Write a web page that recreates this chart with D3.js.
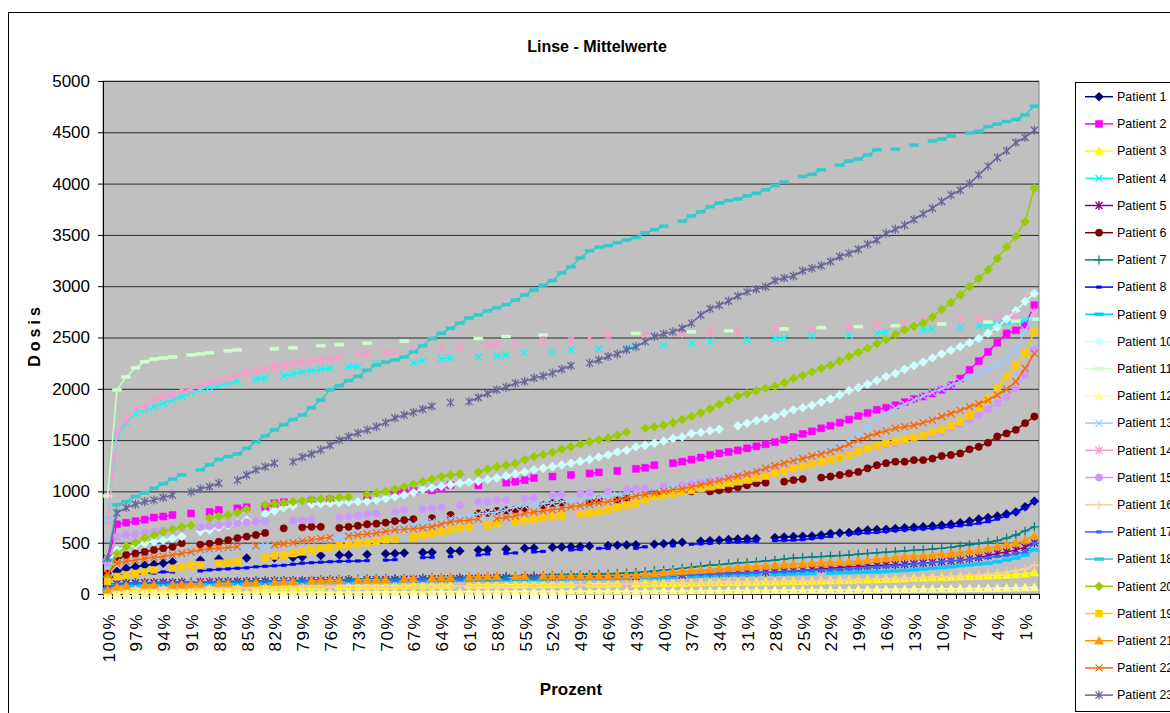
<!DOCTYPE html>
<html>
<head>
<meta charset="utf-8">
<script src="https://cdn.jsdelivr.net/npm/d3@7"></script>
<style>
  html, body { margin: 0; padding: 0; background: #fff; }
  svg { display: block; font-family: "Liberation Sans", Arial, sans-serif; }
</style>
</head>
<body>
<svg id="chart" width="1170" height="713"></svg>
<script>
// Percent levels on the category axis (100 % down to 0 %)
const percentLevels = [100,99,98,97,96,95,94,93,92,91,90,89,88,87,86,85,84,83,82,81,
  80,79,78,77,76,75,74,73,72,71,70,69,68,67,66,65,64,63,62,61,
  60,59,58,57,56,55,54,53,52,51,50,49,48,47,46,45,44,43,42,41,
  40,39,38,37,36,35,34,33,32,31,30,29,28,27,26,25,24,23,22,21,
  20,19,18,17,16,15,14,13,12,11,10,9,8,7,6,5,4,3,2,1,0];

// Levels that carry a label (every third category)
const labelledLevels = [100,97,94,91,88,85,82,79,76,73,70,67,64,61,58,55,52,49,46,43,40,37,34,31,28,25,22,19,16,13,10,7,4,1];

const doseTicks = [0,500,1000,1500,2000,2500,3000,3500,4000,4500,5000];

// Mean dose per percent level; null = no value at that level
const patient1 = [100,220,250,265,280,290,300,315,null,null,
  330,null,340,null,null,350,null,null,352,null,
  355,360,null,375,null,380,380,null,385,null,
  392,395,400,null,405,408,null,418,420,null,
  430,432,null,437,null,445,448,null,455,458,
  460,463,468,null,472,475,478,480,null,485,
  490,498,505,null,515,520,525,530,535,538,
  540,null,550,555,560,562,565,575,590,595,
  600,612,625,628,630,638,645,650,655,662,
  670,680,695,710,730,745,760,780,800,850,
  905];
const patient2 = [315,680,695,710,725,745,755,770,null,785,
  null,800,820,null,835,845,null,850,885,895,
  null,null,910,null,920,null,null,null,950,null,
  null,1000,1005,1005,null,1010,1030,1060,null,null,
  1060,null,null,1085,1095,1110,1130,null,1145,null,
  1160,null,1175,1185,null,1200,null,1220,1230,1255,
  null,1275,1290,1310,1330,1355,1370,1385,1400,1420,
  1440,1460,1480,1505,1530,1560,1585,1615,1640,1670,
  1700,1735,1765,1795,1815,1840,1870,1900,1925,1955,
  1990,2035,2100,2185,2270,2360,2450,2540,2570,2620,
  2815];
const patient3 = [30,45,50,50,52,55,55,58,58,60,
  60,62,62,65,65,null,68,68,70,70,
  70,72,72,75,null,75,78,78,80,80,
  80,82,82,85,85,85,88,88,null,90,
  90,90,92,92,92,95,95,95,95,98,
  98,null,100,100,100,102,null,102,105,105,
  105,108,108,110,110,112,112,115,115,118,
  118,120,120,122,125,125,128,130,132,133,
  135,138,140,142,145,148,150,155,158,160,
  163,166,170,172,175,178,182,185,190,198,
  210];
const patient4 = [720,1540,1670,1760,1795,1825,1860,1890,1925,1960,
  1995,2015,2035,2055,2075,null,2095,2105,null,2125,
  2145,2165,2175,2190,2200,null,2215,2215,null,2250,
  null,null,null,2255,2275,null,2295,2300,null,null,
  2310,null,2320,2330,null,2350,null,null,2360,null,
  2380,null,null,2390,null,null,2400,2410,null,null,
  2430,null,null,2445,null,2460,null,null,null,2475,
  null,null,2490,2495,null,null,2515,null,null,null,
  2525,null,null,2540,2555,null,null,null,2575,2580,
  null,null,2600,null,2610,2620,2630,2645,2655,2670,
  2690];
const patient5 = [50,100,105,108,110,110,112,112,115,null,
  118,118,120,120,122,122,125,125,128,128,
  130,130,132,132,135,135,138,null,140,140,
  142,142,145,145,148,148,150,150,152,152,
  155,155,158,158,null,160,162,162,165,165,
  168,168,170,170,170,170,170,170,null,175,
  178,180,185,190,195,200,202,205,208,210,
  212,213,215,220,225,230,238,245,250,258,
  265,268,272,278,282,286,290,295,302,308,
  315,322,330,342,355,372,395,410,430,455,
  500];
const patient6 = [200,330,380,395,410,430,445,460,495,null,
  480,490,510,525,545,560,575,595,null,640,
  null,650,655,655,null,645,655,665,680,685,
  695,710,720,730,null,740,null,770,null,null,
  785,790,810,815,825,835,null,865,885,890,
  null,null,900,920,null,920,940,null,null,980,
  975,null,null,1000,null,1000,1010,1020,1040,1060,
  1080,1085,null,1095,1110,1120,null,1135,1145,1160,
  1175,1190,1225,1255,1275,1290,1290,1305,1305,1320,
  1345,1355,1370,1410,1435,1475,1535,1565,1600,1665,
  1730];
const patient7 = [60,100,105,108,110,112,115,115,118,118,
  null,120,122,122,125,125,128,128,130,130,
  132,135,135,138,140,140,142,145,145,148,
  150,150,152,null,155,158,160,160,162,165,
  165,168,170,172,175,175,178,180,182,185,
  185,188,190,192,195,200,205,210,218,225,
  232,240,250,260,270,280,287,295,302,308,
  315,322,330,340,350,355,360,365,370,375,
  380,388,395,402,408,414,420,426,432,438,
  445,455,468,480,492,505,520,545,575,615,
  655];
const patient8 = [120,180,190,195,200,205,215,215,null,null,
  225,235,240,245,250,255,265,270,275,280,
  290,300,305,310,315,318,320,322,325,null,
  330,335,null,null,355,358,null,365,null,null,
  380,390,null,395,400,null,410,415,null,null,
  430,435,null,445,445,null,null,445,460,null,
  null,470,null,485,490,495,null,505,508,512,
  515,null,520,522,525,530,540,550,560,null,
  580,590,595,600,610,618,625,630,635,640,
  648,655,665,675,690,705,730,760,800,835,
  900];
const patient9 = [40,80,85,88,90,92,95,95,98,100,
  100,102,102,105,105,108,108,110,110,112,
  null,115,115,118,118,120,120,122,122,125,
  125,128,128,130,130,132,null,135,135,138,
  138,140,140,142,142,145,145,145,null,148,
  148,150,150,150,152,152,155,null,158,160,
  162,165,null,172,178,185,186,188,189,190,
  191,null,193,194,195,198,200,null,205,207,
  209,211,213,215,220,225,230,237,244,250,
  258,266,275,284,292,300,315,332,350,380,
  430];
const patient10 = [300,430,460,480,495,510,525,540,560,null,
  610,625,650,670,695,720,null,780,810,840,
  860,null,875,880,885,890,895,900,905,915,
  930,948,965,990,1020,1035,1050,1065,1080,1090,
  1100,1115,1130,1150,1170,1190,1210,1225,1240,1258,
  1275,1292,1310,1335,1355,1385,1400,1435,1450,1470,
  1490,1515,1530,1565,1575,1590,1605,null,1640,1665,
  1690,1710,1730,1765,1795,1815,1840,1870,1900,1940,
  1980,2010,2045,2080,2120,2150,2190,2225,2260,2300,
  2340,2375,2410,2450,2490,2540,2600,2680,2760,2850,
  2930];
const patient11 = [955,1990,2115,2205,2265,2290,2300,2310,null,2330,
  2340,2350,null,2370,2380,null,null,null,2390,null,
  2400,null,null,2420,null,2430,null,null,2445,null,
  null,null,2465,null,null,null,null,null,null,null,
  2490,null,null,2510,null,null,null,2525,null,null,
  null,null,null,null,null,null,null,2540,null,null,
  null,null,null,2555,null,null,null,2566,null,null,
  null,null,null,2583,null,null,null,2596,null,null,
  null,2606,null,null,null,2615,null,null,null,null,
  2632,null,null,null,null,2650,null,null,2660,null,
  2680];
const patient12 = [5,10,10,10,12,12,12,12,14,14,
  14,14,15,15,15,15,16,16,16,16,
  17,17,17,17,18,18,18,18,19,19,
  19,20,20,20,20,21,21,21,22,22,
  22,23,23,23,24,24,24,25,25,25,
  26,26,26,27,27,27,28,28,28,29,
  29,30,30,31,31,32,32,33,33,34,
  35,35,36,36,37,37,38,38,39,40,
  40,41,42,43,44,45,46,47,48,49,
  50,51,52,53,54,55,57,59,61,63,
  66];
const patient13 = [250,310,320,330,340,350,360,370,380,390,
  400,410,420,430,440,450,460,470,480,490,
  500,510,520,530,540,555,570,585,600,615,
  630,645,660,675,690,705,720,735,750,765,
  780,790,800,820,850,860,870,880,890,900,
  910,920,930,940,955,965,980,990,1005,1020,
  1035,1050,1070,1085,1100,1115,1130,1150,1170,1190,
  1210,1230,1250,1275,1300,1325,1355,1385,1420,1455,
  1500,1560,1620,1690,1760,1810,1850,1890,1930,1965,
  2000,2035,2070,2110,2150,2190,2230,2290,2380,2570,
  2730];
const patient14 = [700,1565,1710,1795,1830,1890,1925,1940,1980,1995,
  2030,2055,2075,2100,2135,2150,2175,2195,2215,2230,
  2250,2265,2275,2280,2290,2305,null,2340,2345,null,
  2360,2360,null,2385,null,null,2395,null,2405,null,
  null,2420,2435,null,2445,null,null,2470,null,null,
  2475,null,2490,null,2515,null,null,null,2525,null,
  null,null,2540,null,null,2555,null,null,2565,null,
  null,null,2580,null,null,null,2590,null,null,null,
  2605,null,null,2620,null,null,2640,null,2655,null,
  null,null,2670,null,2690,null,2705,null,2715,null,
  2750];
const patient15 = [300,560,575,585,600,610,620,630,640,null,
  650,660,670,680,690,700,705,710,null,null,
  715,720,725,null,null,750,755,765,780,785,
  null,800,820,null,825,835,845,null,865,null,
  900,900,915,915,null,930,940,null,965,970,
  null,980,985,null,1005,null,1020,1025,1030,null,
  1050,null,1060,1075,1085,1100,1115,1130,1145,1160,
  1175,1190,1205,1220,1240,1260,1280,1300,1320,1345,
  1370,1395,1420,1440,1455,1470,1500,1530,1550,1565,
  1580,1620,1660,1700,1745,1800,1860,1920,2005,2135,
  2380];
const patient16 = [20,40,45,48,50,52,53,54,55,56,
  57,58,59,60,61,62,62,63,64,65,
  65,66,67,67,68,68,69,70,70,71,
  72,72,73,74,74,75,76,76,77,78,
  78,79,80,80,81,82,83,84,85,86,
  87,88,89,90,92,93,95,97,99,101,
  103,105,107,109,111,113,115,117,118,119,
  120,121,122,123,124,126,128,130,132,134,
  136,139,142,145,148,151,154,157,160,164,
  168,172,177,182,188,195,203,213,226,245,
  280];
const patient17 = [60,95,100,103,105,107,108,110,111,112,
  113,115,116,117,118,119,120,121,122,123,
  124,125,126,127,128,129,130,131,132,133,
  134,135,136,137,138,139,140,141,142,143,
  144,145,146,147,148,149,150,151,152,153,
  154,155,156,158,160,162,165,168,171,174,
  177,180,183,186,189,192,195,198,201,204,
  207,210,213,216,220,224,228,232,236,240,
  245,250,256,262,268,275,282,290,298,306,
  314,322,330,338,346,355,365,376,390,410,
  495];
const patient18 = [330,870,900,950,985,1030,1075,1120,1160,null,
  1210,1260,1310,1340,1365,1420,1480,1540,1600,1650,
  1700,1745,1815,1890,1990,2030,2080,2120,2180,2230,
  2260,2280,2310,2360,2420,2490,2540,2590,2640,2690,
  2720,2760,2790,2820,2865,2915,2963,3010,3055,3130,
  3190,3275,3345,3380,3395,3425,3450,3475,3520,3550,
  3585,null,3635,3685,3725,3775,3810,3835,3850,3880,
  3905,3940,3980,4015,null,4070,4090,4135,null,4180,
  4220,4240,4280,4330,null,4335,null,4375,null,4415,
  4435,4465,null,4495,4510,4555,4580,4605,4625,4670,
  4755];
const patient19 = [120,170,185,200,215,235,null,250,265,280,
  285,null,300,305,315,null,null,350,370,380,
  395,410,430,445,455,470,480,495,500,515,
  530,535,null,550,575,590,605,625,640,655,
  null,670,690,null,705,715,730,740,755,760,
  null,775,785,800,820,845,865,885,920,950,
  965,980,1000,1010,1030,1045,1060,1080,1095,1110,
  1130,1150,1175,1200,1225,1245,1265,1290,1310,1335,
  1355,1390,1420,1445,1470,1490,1505,1530,1550,1575,
  1600,1640,1680,1740,1810,1900,2005,2120,2230,2345,
  2555];
const patient20 = [170,395,460,500,545,575,605,630,655,670,
  null,740,755,770,795,825,null,870,880,890,
  900,910,920,925,930,940,945,null,970,985,
  1000,1020,1045,1070,1095,1120,1145,1160,1170,null,
  1190,1215,1240,1255,1275,1310,1340,1360,1380,1410,
  1435,1460,1485,1505,1520,1550,1580,null,1615,1630,
  1645,1670,1700,1730,1765,1805,1850,1890,1930,1955,
  1980,2005,2025,2060,2100,2130,2165,2200,2230,2270,
  2315,2355,2395,2440,2480,2530,2575,2610,2640,2700,
  2775,2840,2915,2995,3075,3160,3270,3385,3485,3630,
  3955];
const patient21 = [40,70,80,null,90,90,null,90,90,95,
  100,null,105,105,null,108,110,null,115,120,
  122,null,128,130,132,134,null,137,138,140,
  142,null,146,150,null,156,160,162,null,166,
  168,170,171,null,173,174,null,175,175,176,
  176,178,178,178,180,182,184,186,192,200,
  208,215,222,228,234,240,246,252,258,265,
  270,275,280,285,290,295,300,304,308,312,
  315,322,330,340,348,356,365,370,375,380,
  388,396,405,418,430,445,462,480,500,525,
  565];
const patient22 = [200,300,320,330,345,355,365,380,395,410,
  430,440,445,452,460,null,470,null,480,490,
  500,515,530,540,550,null,565,575,585,595,
  610,625,630,635,645,655,680,705,715,720,
  730,null,735,745,760,785,800,810,820,835,
  850,860,875,890,900,915,935,955,970,985,
  1000,1015,1025,1045,1065,1085,1105,1130,1150,1170,
  1195,1225,1250,1275,1300,1320,1345,1365,1390,1420,
  1460,1500,1535,1565,1590,1615,1630,1645,1670,1695,
  1730,1760,1790,1825,1855,1890,1940,1995,2070,2200,
  2345];
const patient23 = [350,790,840,875,900,915,940,965,null,995,
  1025,1045,1080,null,1110,1160,1210,1240,1275,null,
  1290,1335,1365,1405,1450,1500,1535,1570,1600,1630,
  1670,1715,1745,1770,1800,1830,null,1865,null,1875,
  1915,1955,1990,2015,2055,2070,2105,2125,2155,2190,
  2225,null,2250,2280,2315,2340,2380,2410,2460,2510,
  2535,2555,2590,2640,2720,2780,2815,2855,2905,2945,
  2970,2995,3055,3080,3100,3150,3175,3200,3240,3290,
  3320,3360,3410,3450,3515,3555,3595,3650,3705,3760,
  3825,3890,3935,4000,4085,4170,4255,4320,4400,4450,
  4520];

// Series in plotting / legend order
const series = [
  { name: "Patient 1",  values: patient1,  color: "#000080", marker: "diamond" },
  { name: "Patient 2",  values: patient2,  color: "#FF00FF", marker: "square" },
  { name: "Patient 3",  values: patient3,  color: "#FFFF00", marker: "triangle" },
  { name: "Patient 4",  values: patient4,  color: "#00FFFF", marker: "x" },
  { name: "Patient 5",  values: patient5,  color: "#800080", marker: "star" },
  { name: "Patient 6",  values: patient6,  color: "#800000", marker: "circle" },
  { name: "Patient 7",  values: patient7,  color: "#008080", marker: "plus" },
  { name: "Patient 8",  values: patient8,  color: "#0000FF", marker: "dash" },
  { name: "Patient 9",  values: patient9,  color: "#00CCFF", marker: "longdash" },
  { name: "Patient 10", values: patient10, color: "#CCFFFF", marker: "diamond" },
  { name: "Patient 11", values: patient11, color: "#CCFFCC", marker: "longdash" },
  { name: "Patient 12", values: patient12, color: "#FFFF99", marker: "triangle" },
  { name: "Patient 13", values: patient13, color: "#99CCFF", marker: "x" },
  { name: "Patient 14", values: patient14, color: "#FF99CC", marker: "star" },
  { name: "Patient 15", values: patient15, color: "#CC99FF", marker: "circle" },
  { name: "Patient 16", values: patient16, color: "#FFCC99", marker: "plus" },
  { name: "Patient 17", values: patient17, color: "#3366FF", marker: "dash" },
  { name: "Patient 18", values: patient18, color: "#33CCCC", marker: "longdash" },
  { name: "Patient 20", values: patient20, color: "#99CC00", marker: "diamond" },
  { name: "Patient 19", values: patient19, color: "#FFCC00", marker: "square" },
  { name: "Patient 21", values: patient21, color: "#FF9900", marker: "triangle" },
  { name: "Patient 22", values: patient22, color: "#FF6600", marker: "x" },
  { name: "Patient 23", values: patient23, color: "#666699", marker: "star" }
];

// Marker glyphs, centred on the data point
const markerShapes = {
  diamond:  { d: "M0,-4.5L4.5,0L0,4.5L-4.5,0Z", filled: true },
  square:   { d: "M-3.5,-3.5H3.5V3.5H-3.5Z", filled: true },
  triangle: { d: "M0,-4.5L4.5,3.5H-4.5Z", filled: true },
  circle:   { d: d3.symbol(d3.symbolCircle, 42)(), filled: true },
  x:        { d: "M-3.5,-3.5L3.5,3.5M-3.5,3.5L3.5,-3.5", filled: false },
  star:     { d: "M-3.5,-3.5L3.5,3.5M-3.5,3.5L3.5,-3.5M0,-4.5V4.5", filled: false },
  plus:     { d: "M-4.5,0H4.5M0,-4.5V4.5", filled: false },
  dash:     { d: "M-2.5,-1.3H2.5V1.3H-2.5Z", filled: true },
  longdash: { d: "M-4.5,-1.5H4.5V1.5H-4.5Z", filled: true }
};

const svg = d3.select("#chart");
const plot = { left: 103, right: 1039, top: 81, bottom: 594 };

const x = d3.scaleBand().domain(percentLevels).range([plot.left, plot.right]).padding(0);
const xc = level => x(level) + x.bandwidth() / 2;
const y = d3.scaleLinear().domain([0, 5000]).range([plot.bottom, plot.top]);

// Chart frame
svg.append("rect").attr("x", 0).attr("y", 0).attr("width", 1170).attr("height", 713).attr("fill", "#fff");
svg.append("rect").attr("x", 8.5).attr("y", 12.5).attr("width", 1200).attr("height", 720)
  .attr("fill", "none").attr("stroke", "#000").attr("stroke-width", 1);

// Title
svg.append("text").attr("x", 597).attr("y", 52).attr("text-anchor", "middle")
  .attr("font-size", 16).attr("font-weight", "bold").text("Linse - Mittelwerte");

// Plot area
svg.append("rect").attr("x", plot.left).attr("y", plot.top)
  .attr("width", plot.right - plot.left).attr("height", plot.bottom - plot.top)
  .attr("fill", "#C0C0C0").attr("stroke", "#808080").attr("stroke-width", 1);

// Horizontal gridlines
svg.append("g").attr("transform", `translate(${plot.left},0)`)
  .call(d3.axisLeft(y).tickValues(doseTicks.filter(v => v > 0)).tickSize(-(plot.right - plot.left)).tickFormat(""))
  .call(g => g.select(".domain").remove())
  .call(g => g.selectAll(".tick line").attr("stroke", "#2a2a2a").attr("stroke-width", 1));

// Value axis
svg.append("g").attr("transform", `translate(${plot.left},0)`)
  .call(d3.axisLeft(y).tickValues(doseTicks).tickSize(5).tickPadding(8).tickFormat(d3.format("d")))
  .call(g => g.select(".domain").attr("stroke", "#000"))
  .call(g => g.selectAll(".tick line").attr("stroke", "#000"))
  .call(g => g.selectAll(".tick text").attr("font-size", 17).attr("fill", "#000")
    .attr("font-family", "Liberation Sans, Arial, sans-serif"));

// Category axis line and ticks at the category boundaries
svg.append("line").attr("x1", plot.left).attr("x2", plot.right)
  .attr("y1", plot.bottom + 0.5).attr("y2", plot.bottom + 0.5).attr("stroke", "#000");
svg.append("g").selectAll("line")
  .data(percentLevels.map(l => x(l)).concat([x(percentLevels[percentLevels.length - 1]) + x.bandwidth()]))
  .join("line")
  .attr("x1", d => Math.round(d) + 0.5).attr("x2", d => Math.round(d) + 0.5)
  .attr("y1", plot.bottom).attr("y2", plot.bottom + 5)
  .attr("stroke", "#000");

// Category labels, rotated
svg.append("g").selectAll("text")
  .data(labelledLevels)
  .join("text")
  .attr("transform", d => `translate(${xc(d) + 1},613) rotate(-90)`)
  .attr("text-anchor", "end")
  .attr("dy", "0.35em")
  .attr("font-size", 17)
  .attr("letter-spacing", "1.5px")
  .text(d => d + "%");

// Axis titles
svg.append("text").attr("x", 571).attr("y", 695).attr("text-anchor", "middle")
  .attr("font-size", 17).attr("font-weight", "bold").text("Prozent");
svg.append("text").attr("transform", "translate(40,335) rotate(-90)").attr("text-anchor", "middle")
  .attr("font-size", 16).attr("font-weight", "bold").attr("letter-spacing", "4px").text("Dosis");

// Series
const lineGen = d3.line()
  .defined(d => d.v !== null)
  .x(d => xc(d.level))
  .y(d => y(d.v));

const seriesLayer = svg.append("g");
series.forEach(s => {
  const pts = s.values.map((v, i) => ({ level: percentLevels[i], v }));
  const g = seriesLayer.append("g");
  g.append("path").attr("d", lineGen(pts))
    .attr("fill", "none").attr("stroke", s.color).attr("stroke-width", 1.5);
  const shape = markerShapes[s.marker];
  g.selectAll("path.mk")
    .data(pts.filter(p => p.v !== null))
    .join("path")
    .attr("class", "mk")
    .attr("transform", p => `translate(${xc(p.level)},${y(p.v)})`)
    .attr("d", shape.d)
    .attr("fill", shape.filled ? s.color : "none")
    .attr("stroke", s.color)
    .attr("stroke-width", shape.filled ? 0.5 : 1.3);
});

// Legend
const legend = svg.append("g");
legend.append("rect").attr("x", 1075.5).attr("y", 82.5).attr("width", 130).attr("height", 629)
  .attr("fill", "#fff").attr("stroke", "#000");
const item = legend.selectAll("g.item")
  .data(series)
  .join("g")
  .attr("class", "item")
  .attr("transform", (d, i) => `translate(0,${96.7 + i * 27.2})`);
item.append("line").attr("x1", 1085).attr("x2", 1113).attr("y1", 0).attr("y2", 0)
  .attr("stroke", d => d.color).attr("stroke-width", 1.5);
item.append("path")
  .attr("transform", "translate(1099,0)")
  .attr("d", d => markerShapes[d.marker].d)
  .attr("fill", d => markerShapes[d.marker].filled ? d.color : "none")
  .attr("stroke", d => d.color)
  .attr("stroke-width", d => markerShapes[d.marker].filled ? 0.5 : 1.3);
item.append("text").attr("x", 1117).attr("y", 0).attr("dy", "0.35em")
  .attr("font-size", 12.5).text(d => d.name);
</script>
</body>
</html>
